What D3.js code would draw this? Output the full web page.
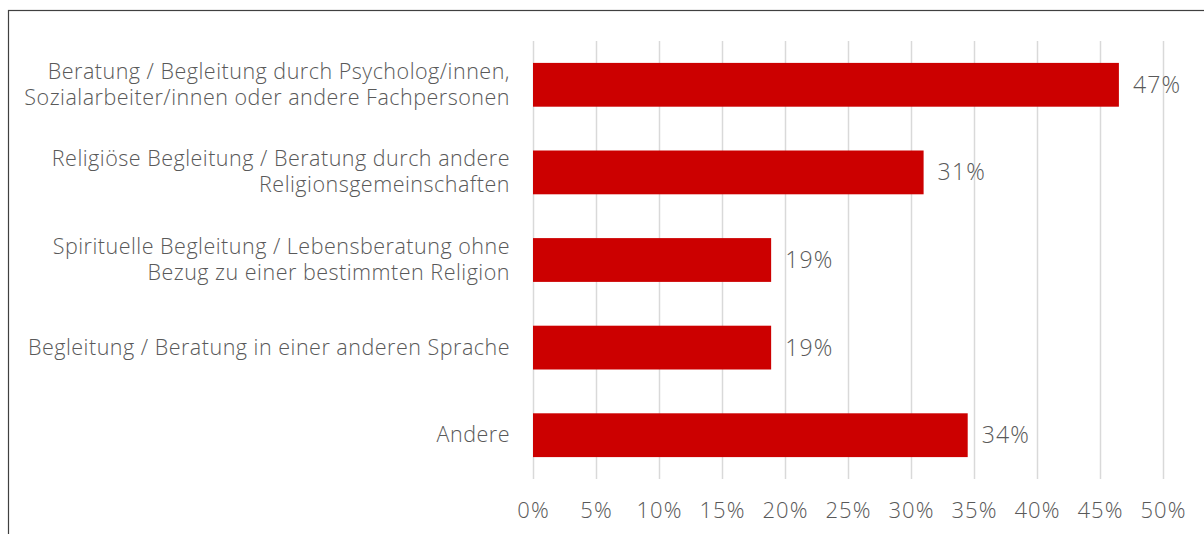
<!DOCTYPE html>
<html lang="de">
<head>
    <meta charset="UTF-8">
    <title>Unterstützungsangebote</title>
    <style type="text/css">
        body { margin: 0; background: #fff; }
        svg text { font-family: "Open Sans", sans-serif; fill: #595959; font-weight: 300; }
        .grid line { stroke: #d9d9d9; stroke-width: 1.5; }
        .grid path { display: none; }
        .axis path, .axis line { display: none; }
        .axis text { font-size: 22px; letter-spacing: 1px; }
    </style>
</head>
<body>
<script src="https://cdn.jsdelivr.net/npm/d3@7"></script>
<script>
    // canvas
    var width = 1204,
        height = 534
    var margin = { top: 41, right: 41, bottom: 55, left: 533 }

    // data
    var categories = [
        ['Beratung / Begleitung durch Psycholog/innen,', 'Sozialarbeiter/innen oder andere Fachpersonen'],
        ['Religiöse Begleitung / Beratung durch andere', 'Religionsgemeinschaften'],
        ['Spirituelle Begleitung / Lebensberatung ohne', 'Bezug zu einer bestimmten Religion'],
        ['Begleitung / Beratung in einer anderen Sprache'],
        ['Andere']
    ]
    var values = [46.5, 31.0, 18.9, 18.9, 34.5]
    var valueLabels = ['47%', '31%', '19%', '19%', '34%']
    var ticks = [0, 5, 10, 15, 20, 25, 30, 35, 40, 45, 50]

    var svg = d3.select('body')
        .append('svg')
        .attr('width', width)
        .attr('height', height)

    // frame (only left and top visible)
    svg.append('rect')
        .attr('x', 8.5)
        .attr('y', 10.5)
        .attr('width', width + 20)
        .attr('height', height + 20)
        .attr('fill', 'none')
        .attr('stroke', '#404040')
        .attr('stroke-width', 1.2)

    var innerW = width - margin.left - margin.right,
        innerH = height - margin.top - margin.bottom

    var xScale = d3.scaleLinear()
        .domain([0, 50])
        .range([0, innerW])
    var yScale = d3.scaleBand()
        .domain(d3.range(categories.length))
        .range([0, innerH])
        .paddingInner(0.5)
        .paddingOuter(0.25)

    var g = svg.append('g')
        .attr('transform', 'translate(' + margin.left + ',' + margin.top + ')')

    // gridlines
    g.append('g')
        .attr('class', 'grid')
        .call(d3.axisBottom(xScale).tickValues(ticks).tickSize(innerH).tickFormat(''))

    // bars
    g.selectAll('.bar')
        .data(values)
        .enter()
        .append('rect')
        .attr('class', 'bar')
        .attr('x', 0)
        .attr('y', (d, i) => yScale(i))
        .attr('width', d => xScale(d))
        .attr('height', yScale.bandwidth())
        .attr('fill', '#cc0000')

    // value labels
    g.selectAll('.val')
        .data(values)
        .enter()
        .append('text')
        .attr('class', 'val')
        .attr('x', d => xScale(d) + 14)
        .attr('y', (d, i) => yScale(i) + yScale.bandwidth() / 2)
        .attr('dy', '0.35em')
        .style('font-size', '23px')
        .style('letter-spacing', '1.2px')
        .text((d, i) => valueLabels[i])

    // category labels
    var lineH = 26
    var labels = g.selectAll('.cat')
        .data(categories)
        .enter()
        .append('text')
        .attr('class', 'cat')
        .attr('text-anchor', 'end')
        .style('font-size', '21.5px')
        .style('letter-spacing', '0.5px')
        .attr('y', (d, i) => yScale(i) + yScale.bandwidth() / 2)
    labels.selectAll('tspan')
        .data(d => d.map((t, j) => ({ t: t, j: j, n: d.length })))
        .enter()
        .append('tspan')
        .attr('x', -23)
        .attr('dy', d => d.j === 0 ? ((-(d.n - 1) * lineH / 2) + 7) + 'px' : lineH + 'px')
        .text(d => d.t)

    // x axis
    g.append('g')
        .attr('class', 'axis')
        .attr('transform', 'translate(0,' + innerH + ')')
        .call(d3.axisBottom(xScale).tickValues(ticks).tickSize(0).tickPadding(23).tickFormat(d => d + '%'))
</script>
</body>
</html>
